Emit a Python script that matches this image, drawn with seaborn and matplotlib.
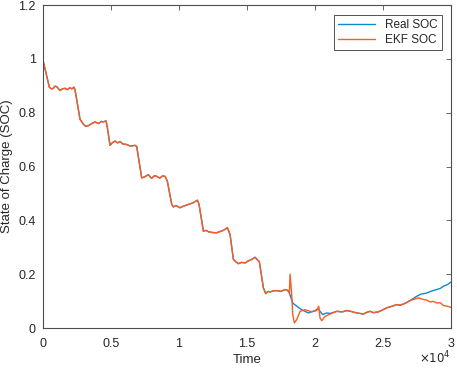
"""
Real vs EKF state of charge over time
"""
import pandas as pd
import numpy as np
import matplotlib
matplotlib.use('Agg')
import matplotlib.pyplot as plt
from matplotlib.ticker import FuncFormatter, MultipleLocator
import seaborn as sns

# --- data (time in s, SOC as fraction) ---
# shared part of both traces, up to the first big disturbance
common_t = [0, 490, 640, 784, 900, 1029, 1150, 1273, 1450, 1640, 1800, 2008, 2150, 2302,
            2376, 2743, 2988, 3150, 3355, 3600, 3845, 4100, 4300, 4457, 4653, 4751, 4947,
            5100, 5314, 5500, 5681, 5900, 6171, 6450, 6783, 6906, 7274, 7500, 7763,
            8000, 8200, 8376, 8600, 8800, 8988, 9160, 9478, 9600, 9800, 10090, 10300,
            10580, 10800, 11070, 11364, 11486, 11804, 12000, 12171, 12450, 12784, 13000,
            13274, 13568, 13764, 14009, 14200, 14376, 14600, 14866, 15100, 15355, 15600,
            15919, 16213, 16384, 16550, 16703, 16950, 17193, 17500, 17805, 18000, 18123]
common_soc = [1.0, 0.895, 0.889, 0.891, 0.899, 0.897, 0.890, 0.883, 0.889, 0.891, 0.886,
              0.893, 0.889, 0.895, 0.885, 0.776, 0.758, 0.750, 0.752, 0.760, 0.766, 0.760,
              0.768, 0.766, 0.770, 0.745, 0.679, 0.688, 0.695, 0.688, 0.693, 0.684,
              0.682, 0.676, 0.679, 0.675, 0.558, 0.562, 0.570, 0.556, 0.566, 0.564,
              0.557, 0.565, 0.564, 0.545, 0.460, 0.450, 0.455, 0.447, 0.452, 0.457,
              0.461, 0.466, 0.475, 0.460, 0.360, 0.363, 0.358, 0.355, 0.354, 0.358,
              0.363, 0.373, 0.348, 0.255, 0.246, 0.239, 0.244, 0.242, 0.249, 0.255,
              0.263, 0.246, 0.149, 0.128, 0.136, 0.134, 0.138, 0.139, 0.136, 0.143,
              0.140, 0.130]

real_mid_t = [18368, 18662, 19029, 19519, 20009, 20254, 20376, 20572, 20866, 21111]
real_mid_soc = [0.093, 0.081, 0.068, 0.056, 0.065, 0.072, 0.062, 0.050, 0.056, 0.054]

ekf_start_t = [0]
ekf_start_soc = [0.867]
ekf_mid_t = [18172, 18294, 18368, 18490, 18662, 18907, 19274, 19764, 20131, 20278,
             20376, 20498, 20744, 21111]
ekf_mid_soc = [0.200, 0.124, 0.050, 0.019, 0.031, 0.062, 0.068, 0.060, 0.065, 0.081,
               0.037, 0.027, 0.043, 0.052]

# shared again until the traces split near the end
common2_t = [21601, 22000, 22335, 22700, 23070, 23560, 23800, 24050, 24300, 24662,
             25000, 25274, 25600, 26009, 26250, 26499, 26750, 26988]
common2_soc = [0.062, 0.060, 0.065, 0.061, 0.056, 0.052, 0.058, 0.062, 0.057, 0.060,
               0.068, 0.075, 0.080, 0.087, 0.085, 0.089, 0.095, 0.102]

real_end_t = [27478, 27800, 28213, 28600, 28947, 29200, 29437, 29750, 30000]
real_end_soc = [0.118, 0.126, 0.130, 0.138, 0.143, 0.147, 0.155, 0.162, 0.171]
ekf_end_t = [27350, 27600, 27967, 28200, 28457, 28700, 28947, 29200, 29437, 29700, 30000]
ekf_end_soc = [0.108, 0.112, 0.106, 0.104, 0.097, 0.099, 0.093, 0.094, 0.084, 0.081, 0.077]

real_t = common_t + real_mid_t + common2_t + real_end_t
real_soc = common_soc + real_mid_soc + common2_soc + real_end_soc
ekf_t = ekf_start_t + common_t + ekf_mid_t + common2_t + ekf_end_t
ekf_soc = ekf_start_soc + common_soc + ekf_mid_soc + common2_soc + ekf_end_soc

df = pd.concat([
    pd.DataFrame({'Time': real_t, 'SOC': real_soc, 'Series': 'Real SOC'}),
    pd.DataFrame({'Time': ekf_t, 'SOC': ekf_soc, 'Series': 'EKF SOC'}),
], ignore_index=True)

sns.set_style('white')
plt.rcParams['font.family'] = ['Liberation Sans', 'DejaVu Sans']

fig = plt.figure(figsize=(4.57, 3.70), dpi=100)
ax = fig.add_axes([0.0934, 0.1135, 0.8936, 0.8725])

palette = {'Real SOC': '#0A8BD0', 'EKF SOC': '#FF5A1F'}
sns.lineplot(data=df, x='Time', y='SOC', hue='Series', palette=palette,
             sort=False, estimator=None, linewidth=1.0, ax=ax)

ax.set_xlim(0, 30000)
ax.set_ylim(0, 1.2)
ax.xaxis.set_major_locator(MultipleLocator(5000))
ax.yaxis.set_major_locator(MultipleLocator(0.2))
ax.xaxis.set_major_formatter(FuncFormatter(lambda v, p: f'{v / 1e4:g}'))
ax.yaxis.set_major_formatter(FuncFormatter(lambda v, p: f'{v:g}'))

grey = '#4d4d4d'
for s in ax.spines.values():
    s.set_color(grey)
    s.set_linewidth(0.8)
ax.tick_params(direction='in', top=True, right=True, length=3.5, width=0.6,
               color=grey, labelsize=9, labelcolor='#262626')
ax.tick_params(axis='x', pad=7)
ax.tick_params(axis='y', pad=5)
ax.set_xlabel('Time', fontsize=9.5, color='#262626', labelpad=3)
ax.set_ylabel('State of Charge (SOC)', fontsize=9.5, color='#262626', labelpad=4)
# MATLAB-style exponent label under the right end of the x axis
ax.text(1.0, -0.068, r'$\times10^4$', transform=ax.transAxes, ha='right', va='top',
        fontsize=8.5, color='#262626')

leg = ax.legend(loc='upper right', fontsize=8.5, frameon=True, fancybox=False,
                edgecolor='#262626', handlelength=3.2, borderpad=0.35,
                labelspacing=0.3, borderaxespad=0.8)
leg.get_frame().set_linewidth(0.7)
leg.set_title(None)

fig.savefig('out.png', dpi=100)
